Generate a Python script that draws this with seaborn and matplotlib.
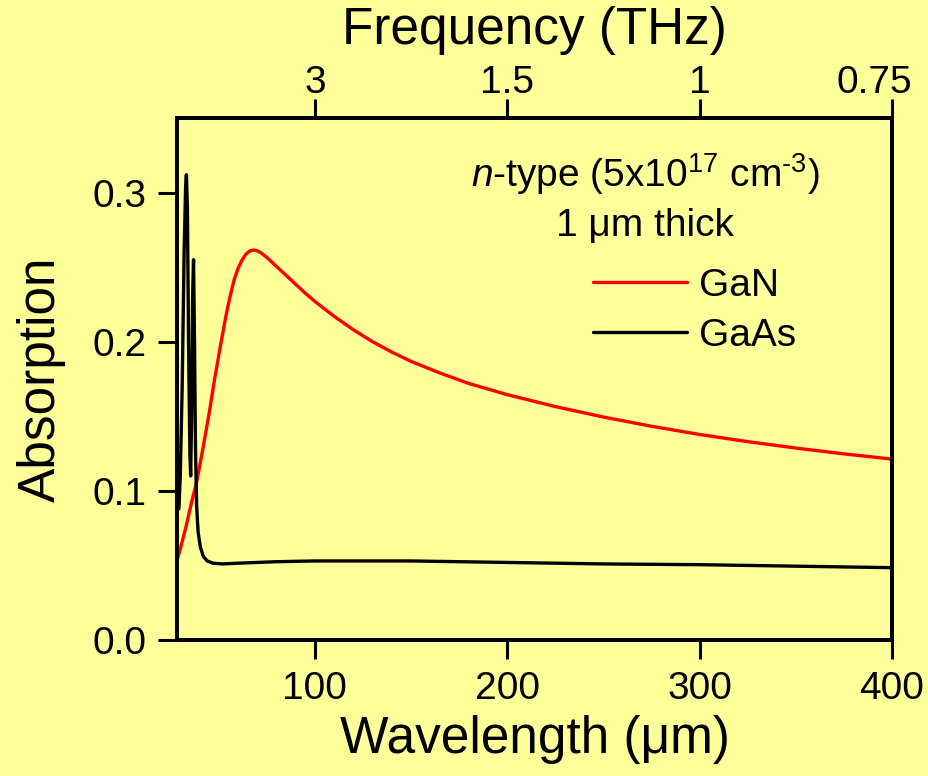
import matplotlib
matplotlib.use("Agg")
import matplotlib.pyplot as plt
import matplotlib.transforms as mtransforms
import numpy as np
import pandas as pd
import seaborn as sns

# ---------------- data ----------------
gan_wavelength = [28.3, 30, 33, 36, 38, 40, 42, 45, 48, 51, 54, 56, 58, 60, 62, 64, 66,
                  68, 70, 72, 75, 80, 85, 90, 95, 100, 110, 120, 130, 140, 150, 165,
                  180, 200, 225, 250, 275, 300, 325, 350, 375, 400]
gan_absorption = [0.053, 0.061, 0.076, 0.093, 0.103, 0.116, 0.130, 0.152, 0.176, 0.198,
                  0.219, 0.231, 0.2415, 0.249, 0.2545, 0.2585, 0.2608, 0.2615, 0.2610,
                  0.2596, 0.2565, 0.2505, 0.2445, 0.2385, 0.2325, 0.2270, 0.2170, 0.2080,
                  0.2000, 0.1930, 0.1868, 0.1790, 0.1720, 0.1645, 0.1565, 0.1495, 0.1433,
                  0.1378, 0.1330, 0.1287, 0.1248, 0.1213]

gaas_wavelength = [29.3, 30.0, 31.0, 32.0, 32.8, 33.2, 33.7, 34.3, 35.0, 35.4, 35.9, 36.4,
                   36.9, 37.4, 37.9, 38.5, 39.3, 40.5, 42, 44, 47, 52, 60, 80, 100, 150,
                   200, 250, 300, 350, 400]
gaas_absorption = [0.088, 0.110, 0.170, 0.260, 0.305, 0.312, 0.290, 0.200, 0.125, 0.110,
                   0.150, 0.230, 0.255, 0.200, 0.130, 0.090, 0.072, 0.062, 0.056, 0.053,
                   0.0515, 0.051, 0.0515, 0.0525, 0.053, 0.053, 0.052, 0.051, 0.0505,
                   0.0495, 0.0485]

series_names = ["GaN", "GaAs"]
series_colors = ["#ff0000", "#000000"]

wavelength_ticks = [100, 200, 300, 400]
absorption_ticks = [0.0, 0.1, 0.2, 0.3]
absorption_tick_labels = ["0.0", "0.1", "0.2", "0.3"]
frequency_ticks_thz = [3, 1.5, 1, 0.75]
frequency_tick_labels = ["3", "1.5", "1", "0.75"]

annotation_line1 = r"$\mathit{n}$-type (5x10$^{17}$ cm$^{\text{-}3}$)"
annotation_line2 = "1 \u03bcm thick"

# ---------------- style ----------------
sns.set_style("ticks")
bg = "#ffff99"
plt.rcParams["font.family"] = ["Liberation Sans", "DejaVu Sans"]
plt.rcParams["mathtext.fontset"] = "custom"
plt.rcParams["mathtext.rm"] = "Liberation Sans"
plt.rcParams["mathtext.it"] = "Liberation Sans:italic"
plt.rcParams["mathtext.default"] = "regular"
for k in ["text.color", "axes.labelcolor", "xtick.color", "ytick.color", "axes.edgecolor"]:
    plt.rcParams[k] = "black"

df = pd.DataFrame({
    "Wavelength": gan_wavelength + gaas_wavelength,
    "Absorption": gan_absorption + gaas_absorption,
    "Material": [series_names[0]] * len(gan_wavelength) + [series_names[1]] * len(gaas_wavelength),
})

fig = plt.figure(figsize=(9.29, 7.76), dpi=100, facecolor=bg)
ax = fig.add_axes([177 / 929, 1 - 640 / 776, (892 - 177) / 929, (640 - 118) / 776])
ax.set_facecolor(bg)

sns.lineplot(data=df, x="Wavelength", y="Absorption", hue="Material",
             palette=dict(zip(series_names, series_colors)), hue_order=series_names,
             estimator=None, sort=False, linewidth=2.4, ax=ax)

ax.set_xlim(28.3, 400)
ax.set_ylim(0, 0.35)
ax.set_xticks(wavelength_ticks)
ax.set_xticklabels([str(v) for v in wavelength_ticks])
ax.set_yticks(absorption_ticks)
ax.set_yticklabels(absorption_tick_labels)

for s in ax.spines.values():
    s.set_visible(True)
    s.set_linewidth(2.8)
    s.set_color("black")

ax.tick_params(axis="both", direction="out", length=14, width=2.2, labelsize=28,
               colors="black")
ax.tick_params(axis="x", pad=8)
ax.tick_params(axis="y", pad=8)
ax.set_xlabel("Wavelength (\u03bcm)", fontsize=37, labelpad=6, color="black")
ax.set_ylabel("Absorption", fontsize=37, labelpad=19, color="black")

# top axis: frequency (THz) = 300 / wavelength (um)
ax2 = ax.twiny()
ax2.set_xlim(ax.get_xlim())
ax2.set_xticks([300.0 / f for f in frequency_ticks_thz])
ax2.set_xticklabels(frequency_tick_labels)
ax2.tick_params(axis="x", direction="out", length=14, width=2.2, labelsize=28, pad=-2,
                colors="black")
ax2.set_xlabel("Frequency (THz)", fontsize=37, labelpad=15, color="black")
for s in ax2.spines.values():
    s.set_linewidth(2.8)
    s.set_color("black")
# last top label sits shifted left of its tick, as in the reference
last_lbl = ax2.get_xticklabels()[-1]
last_lbl.set_transform(last_lbl.get_transform() +
                       mtransforms.ScaledTranslation(-18 / 100, 0, fig.dpi_scale_trans))

# annotations
ax.text(0.655, 0.868, annotation_line1, transform=ax.transAxes, ha="center",
        va="baseline", fontsize=28)
ax.text(0.654, 0.773, annotation_line2, transform=ax.transAxes, ha="center",
        va="baseline", fontsize=28)

leg = ax.legend(loc="upper left", bbox_to_anchor=(593 / 929, 1 - 268 / 776),
                bbox_transform=fig.transFigure, frameon=False, fontsize=28,
                handlelength=2.42, handletextpad=0.3, labelspacing=0.35,
                borderpad=0, borderaxespad=0, title=None)
for line in leg.get_lines():
    line.set_linewidth(2.4)

fig.savefig("out.png", dpi=100, facecolor=bg)
